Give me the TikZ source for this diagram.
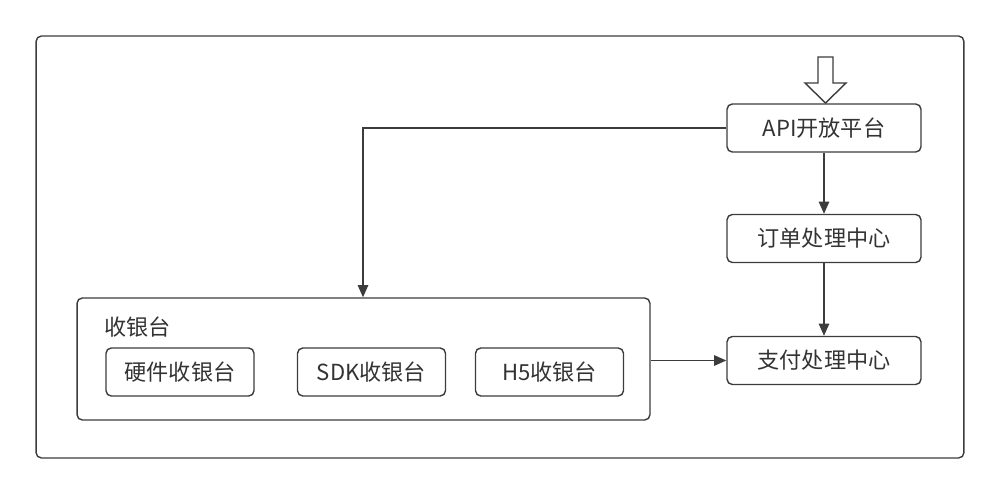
\documentclass[tikz,border=0pt]{standalone}
\usepackage{fontspec}
\usetikzlibrary{arrows.meta}
\newfontfamily\cjk{Noto Sans CJK SC}
\definecolor{lcol}{RGB}{60,60,60}
\definecolor{tcol}{RGB}{51,51,51}
\tikzset{every picture/.style={x=0.02cm,y=-0.02cm}}
\tikzset{box/.style={draw=lcol,line width=0.8pt,rounded corners=3pt,inner sep=0pt,text=tcol,font=\cjk\fontsize{12.6}{14}\selectfont}}
\tikzset{bigbox/.style={box,minimum width=3.88cm,minimum height=0.96cm}}
\tikzset{subbox/.style={box,minimum width=2.96cm,minimum height=0.96cm}}
\tikzset{edge/.style={draw=lcol,line width=0.8pt,-{Triangle[length=7pt,width=6pt]}}}
\begin{document}
\begin{tikzpicture}
\useasboundingbox (0,0) rectangle (1000,494);
\node [box,minimum width=18.56cm,minimum height=8.44cm] (frame) at (500,247) {};

\node [bigbox] (api) at (824,128) {API开放平台};
\node [bigbox] (order) at (824,238.5) {订单处理中心};
\node [bigbox] (pay) at (824,360.5) {支付处理中心};

\node [box,minimum width=11.46cm,minimum height=2.44cm] (cashier) at (363.5,359) {};
\node [text=tcol,font=\cjk\fontsize{12.6}{14}\selectfont,anchor=west,inner sep=0pt] (title) at (104,327) {收银台};
\node [subbox] (hw) at (180,372) {硬件收银台};
\node [subbox] (sdk) at (371.5,372) {SDK收银台};
\node [subbox] (h5) at (549.5,372) {H5收银台};

% hollow entry arrow
\draw [lcol,line width=0.8pt,fill=white,line join=miter] (818,57) -- (833,57) -- (833,83) -- (846,83) -- (825.5,103) -- (805,83) -- (818,83) -- cycle;

\draw [edge] (api.west) -| (cashier.north -| 363,0);
\draw [edge] (api) -- (order);
\draw [edge] (order) -- (pay);
\draw [edge] (cashier.east |- pay) -- (pay);
\end{tikzpicture}
\end{document}
